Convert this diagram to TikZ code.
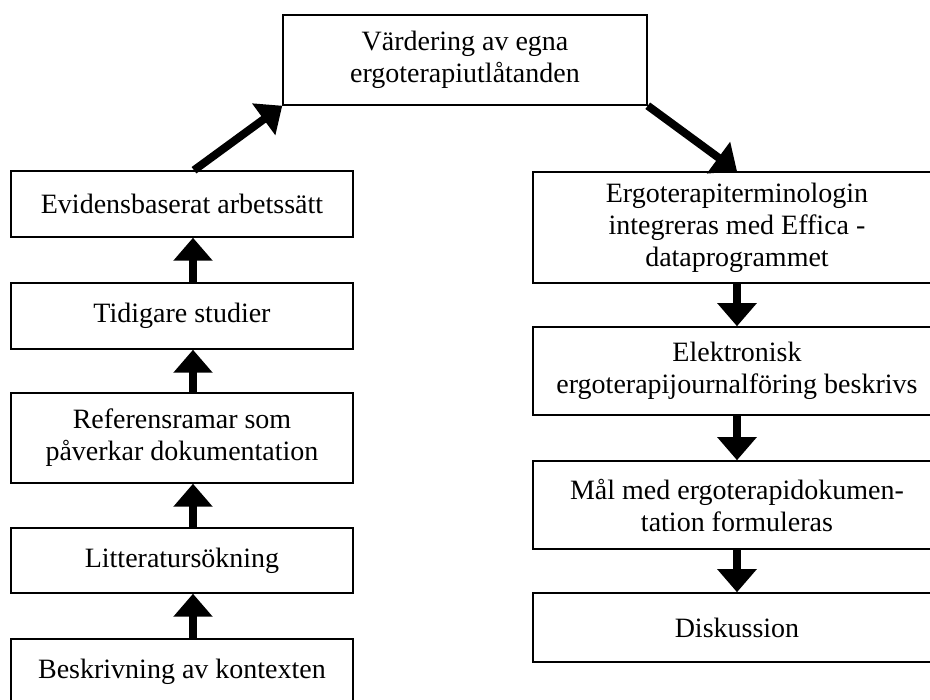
\documentclass[tikz,border=0pt]{standalone}
\usepackage{fontspec}
\setmainfont{Liberation Serif}
\usetikzlibrary{arrows.meta}
\tikzstyle{stage} = [rectangle, minimum width=342pt, minimum height=66pt, text centered, align=center, draw=black, line width=1.5pt, font=\fontsize{28}{32}\selectfont]
\tikzstyle{result} = [stage, minimum width=408pt, minimum height=88pt]
\tikzstyle{goal} = [stage, minimum width=364pt, minimum height=90pt]
\tikzstyle{arrow} = [line width=8pt, -{Triangle[width=38pt, length=23pt]}]

\begin{document}
\begin{tikzpicture}[x=1pt, y=-1pt]
		\useasboundingbox (0,0) rectangle (930,700);
		\node (vard) [goal] at (465,60) {Värdering av egna\\ergoterapiutlåtanden};
		% left column, bottom up
		\node (evid) [stage] at (182,204) {Evidensbaserat arbetssätt};
		\node (tid) [stage, node distance=112pt, below of=evid] {Tidigare studier};
		\node (ref) [stage, minimum height=90pt, node distance=122pt, below of=tid] {Referensramar som\\påverkar dokumentation};
		\node (lit) [stage, minimum height=65pt, node distance=122.5pt, below of=ref] {Litteratursökning};
		\node (besk) [stage, node distance=111.5pt, below of=lit] {Beskrivning av kontexten};
		% right column
		\node (ergo) [result, minimum height=111pt] at (737,227.5) {Ergoterapiterminologin\\integreras med Effica -\\dataprogrammet};
		\node (elek) [result, node distance=143.5pt, below of=ergo] {Elektronisk\\ergoterapijournalföring beskrivs};
		\node (mal) [result, node distance=134pt, below of=elek] {Mål med ergoterapidokumen-\\tation formuleras};
		\node (disk) [result, minimum height=69pt, node distance=122.5pt, below of=mal] {Diskussion};
		\draw [arrow] ([xshift=11pt]besk.north) -- ([xshift=11pt]lit.south);
		\draw [arrow] ([xshift=11pt]lit.north) -- ([xshift=11pt]ref.south);
		\draw [arrow] ([xshift=11pt]ref.north) -- ([xshift=11pt]tid.south);
		\draw [arrow] ([xshift=11pt]tid.north) -- ([xshift=11pt]evid.south);
		\draw [arrow] ([xshift=12pt]evid.north) -- (vard.south west);
		\draw [arrow] (vard.south east) -- (ergo.north);
		\draw [arrow] (ergo) -- (elek);
		\draw [arrow] (elek) -- (mal);
		\draw [arrow] (mal) -- (disk);
	\end{tikzpicture}
\end{document}
